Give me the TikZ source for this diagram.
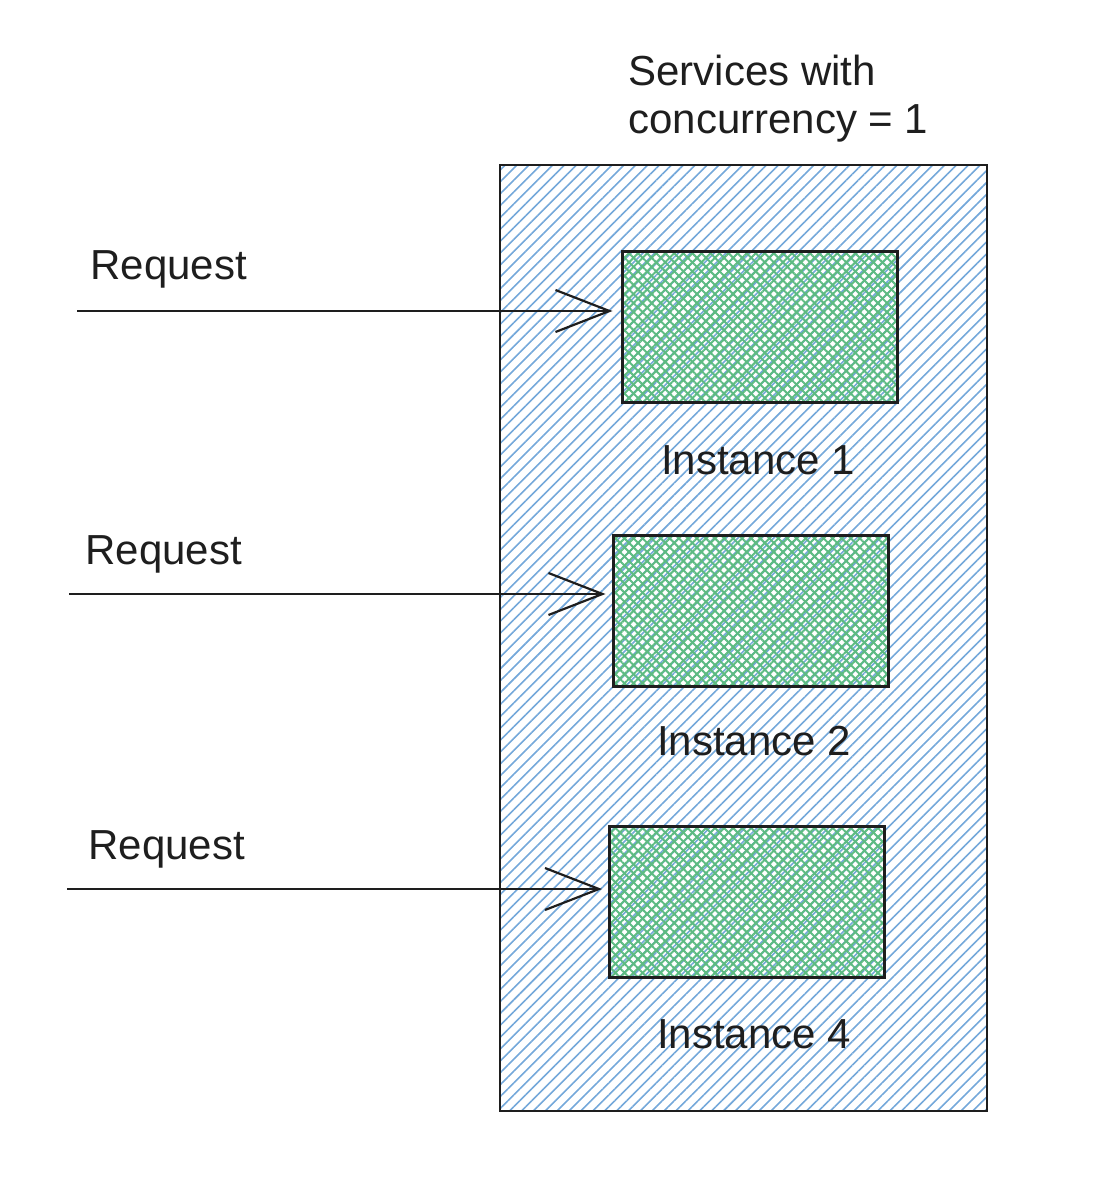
\documentclass[tikz,border=0pt]{standalone}
\usepackage{fontspec}
\setmainfont{Liberation Sans}
\usetikzlibrary{patterns.meta,arrows.meta}
\definecolor{hatchblue}{HTML}{74A8DA}
\definecolor{hatchgreen}{HTML}{5DBB82}
\definecolor{ink}{HTML}{1E1E1E}
\tikzset{
  txt/.style={inner sep=0pt, text=ink, font=\fontsize{21}{24}\selectfont},
  service/.style={draw=ink, line width=1.4pt, minimum width=243.5pt, minimum height=473pt,
    pattern={Lines[angle=45,distance=4.2pt,line width=0.8pt]}, pattern color=hatchblue},
  instance/.style={draw=ink, line width=1.5pt, minimum width=137.5pt, minimum height=75.5pt,
    postaction={pattern={Lines[angle=45,distance=3.2pt,line width=1pt]}, pattern color=hatchgreen},
    postaction={pattern={Lines[angle=-45,distance=3.2pt,line width=1pt]}, pattern color=hatchgreen},
    postaction={draw=ink, line width=1.5pt}},
  req/.style={draw=ink, line width=1.1pt, -{Straight Barb[length=27pt,width=21pt,line width=1.1pt]}}
}
\begin{document}
\begin{tikzpicture}[x=0.5pt,y=-0.5pt]
\useasboundingbox (0,0) rectangle (1096,1181);
\node[service] (svc) at (743.5,638) {};
\node[instance] (i1) at (759.5,327.5) {};
\node[instance] (i2) at (750.5,610.5) {};
\node[instance] (i3) at (747,901.5) {};
\node[txt, anchor=base] (l1) at (758,474) {Instance 1};
\node[txt, anchor=base] (l2) at (754,755) {Instance 2};
\node[txt, anchor=base] (l3) at (754,1048) {Instance 4};
\node[txt, anchor=north west, align=left] (title) at (628,55) {Services with\\concurrency = 1};
\node[txt, anchor=base west] (q1) at (90,280) {Request};
\node[txt, anchor=base west] (q2) at (85,564) {Request};
\node[txt, anchor=base west] (q3) at (88,859) {Request};
\coordinate (s1) at (77,311);
\coordinate (s2) at (69,594);
\coordinate (s3) at (67,889);
\draw[req, shorten >=4pt] (s1) -- (s1 -| i1.west);
\draw[req, shorten >=3pt] (s2) -- (s2 -| i2.west);
\draw[req, shorten >=3pt] (s3) -- (s3 -| i3.west);
\end{tikzpicture}
\end{document}
